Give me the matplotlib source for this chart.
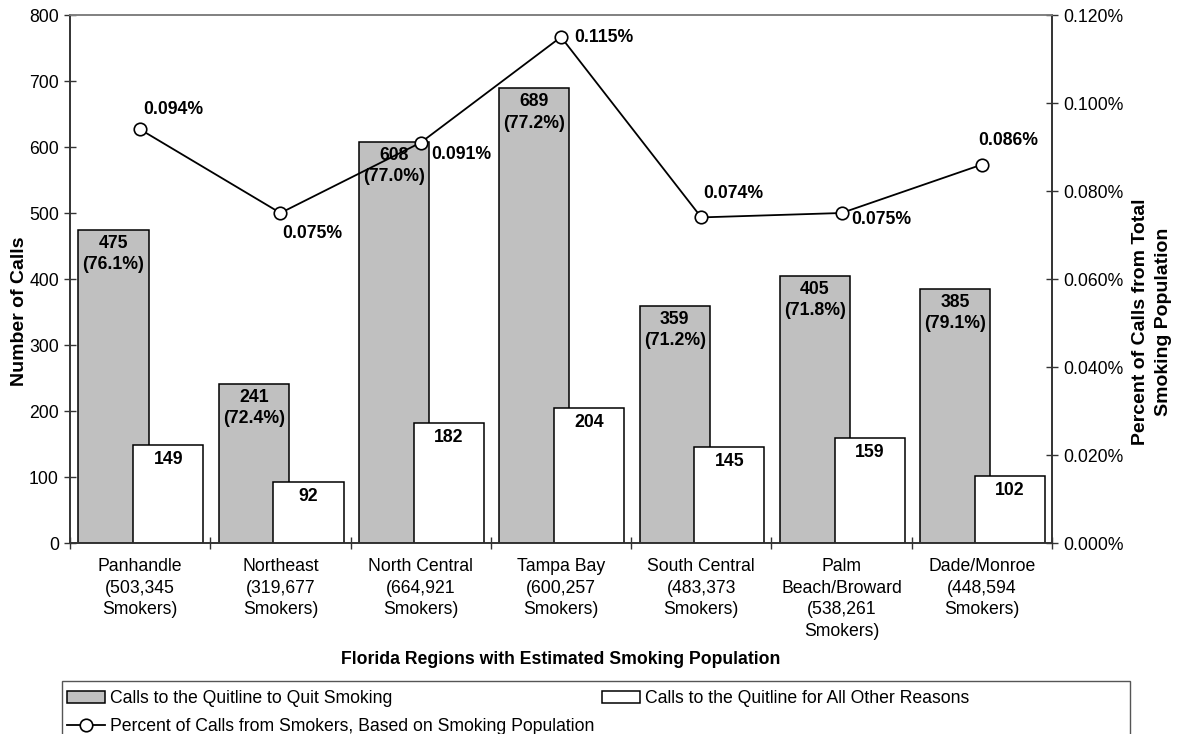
import matplotlib
matplotlib.use("Agg")
import matplotlib.pyplot as plt
from matplotlib.ticker import FuncFormatter, MultipleLocator, FixedLocator
from matplotlib.patches import Rectangle
import numpy as np

plt.rcParams['font.family'] = ['Liberation Sans', 'DejaVu Sans']

regions = ["Panhandle\n(503,345\nSmokers)", "Northeast\n(319,677\nSmokers)",
           "North Central\n(664,921\nSmokers)", "Tampa Bay\n(600,257\nSmokers)",
           "South Central\n(483,373\nSmokers)", "Palm\nBeach/Broward\n(538,261\nSmokers)",
           "Dade/Monroe\n(448,594\nSmokers)"]
quit_calls = [475, 241, 608, 689, 359, 405, 385]
quit_share = ["76.1%", "72.4%", "77.0%", "77.2%", "71.2%", "71.8%", "79.1%"]
other_calls = [149, 92, 182, 204, 145, 159, 102]
pct_smokers = [0.094, 0.075, 0.091, 0.115, 0.074, 0.075, 0.086]
pct_labels = ["0.094%", "0.075%", "0.091%", "0.115%", "0.074%", "0.075%", "0.086%"]

FS = 12.7
TFS = 14
W, H = 1185, 734
fig = plt.figure(figsize=(W / 100, H / 100), dpi=100)
L, R, T, B = 70, 1052, 15, 543
ax = fig.add_axes([L / W, 1 - B / H, (R - L) / W, (B - T) / H])
ax2 = ax.twinx()

x = np.arange(len(regions))
bw = 0.5
gb = ax.bar(x - 0.19, quit_calls, bw, color="#C0C0C0", edgecolor="black", linewidth=1.1, zorder=2,
            label="Calls to the Quitline to Quit Smoking")
wb = ax.bar(x + 0.2, other_calls, bw, color="white", edgecolor="black", linewidth=1.1, zorder=3,
            label="Calls to the Quitline for All Other Reasons")

for xi, v, s in zip(x, quit_calls, quit_share):
    ax.annotate(f"{v}\n({s})", (xi - 0.19, v), xytext=(0, -5), textcoords="offset pixels",
                ha="center", va="top", fontsize=FS, fontweight="bold", zorder=4, linespacing=1.33)
for xi, v in zip(x, other_calls):
    ax.annotate(f"{v}", (xi + 0.2, v), xytext=(0, -6), textcoords="offset pixels",
                ha="center", va="top", fontsize=FS, fontweight="bold", zorder=4)

ax.set_xlim(-0.5, len(regions) - 0.5)
ax.set_ylim(0, 800)
ax.yaxis.set_major_locator(MultipleLocator(100))
ax.set_xticks(x)
ax.set_xticklabels(regions, fontsize=FS, linespacing=1.35)
ax.xaxis.set_minor_locator(FixedLocator(np.arange(-0.5, len(regions), 1.0)))
ax.tick_params(axis="x", which="major", length=0, pad=11)
ax.tick_params(axis="x", which="minor", direction="inout", length=8, width=1, color="#333333")
ax.tick_params(axis="y", direction="inout", length=8, width=1, labelsize=FS, color="#333333", pad=4)
ax.set_xlabel("Florida Regions with Estimated Smoking Population", fontsize=FS, fontweight="bold", labelpad=8)
ax.set_ylabel("Number of Calls", fontsize=TFS, fontweight="bold")
ax.yaxis.set_label_coords(-42 / (R - L), (B - 311) / (B - T))

ln, = ax2.plot(x, pct_smokers, color="black", linewidth=1.3, marker="o", markersize=9,
               markerfacecolor="white", markeredgecolor="black", markeredgewidth=1.2, zorder=5,
               label="Percent of Calls from Smokers, Based on Smoking Population")
offsets = [(3, 20), (2, -20), (11, -12), (13, 0), (2, 24), (10, -7), (-4, 24)]
for xi, v, lab, (dx, dy) in zip(x, pct_smokers, pct_labels, offsets):
    ax2.annotate(lab, (xi, v), xytext=(dx, dy), textcoords="offset pixels", ha="left", va="center",
                 fontsize=FS, fontweight="bold", zorder=6)

ax2.set_ylim(0, 0.12)
ax2.yaxis.set_major_locator(MultipleLocator(0.02))
ax2.yaxis.set_major_formatter(FuncFormatter(lambda v, p: f"{v:.3f}%"))
ax2.tick_params(axis="y", direction="inout", length=8, width=1, labelsize=FS, color="#333333", pad=4)
ax2.set_ylabel("Percent of Calls from Total\nSmoking Population", fontsize=TFS, fontweight="bold",
               linespacing=1.5)
ax2.yaxis.set_label_coords((1132 - L) / (R - L), (B - 322) / (B - T))

for a in (ax, ax2):
    a.spines["top"].set_color("#808080")
    a.spines["left"].set_color("#333333")
    a.spines["right"].set_color("#333333")
    a.spines["bottom"].set_color("#333333")
    for s in a.spines.values():
        s.set_linewidth(1.2)

# legend frame
fig.patches.append(Rectangle((62 / W, -0.05), (1130 - 62) / W, (H - 681) / H + 0.05,
                             transform=fig.transFigure, fill=False, edgecolor="#555555",
                             linewidth=1.0))
common = dict(loc="upper left", fontsize=FS, frameon=False, handlelength=2.15, handleheight=0.62,
              borderaxespad=0, borderpad=0, handletextpad=0.28, labelspacing=0.62)
leg1 = fig.legend([gb, ln], [gb.get_label(), ln.get_label()],
                  bbox_to_anchor=(67 / W, (H - 690) / H), **common)
leg2 = fig.legend([wb], [wb.get_label()],
                  bbox_to_anchor=(602 / W, (H - 690) / H), **common)

fig.savefig("out.png", dpi=100)
